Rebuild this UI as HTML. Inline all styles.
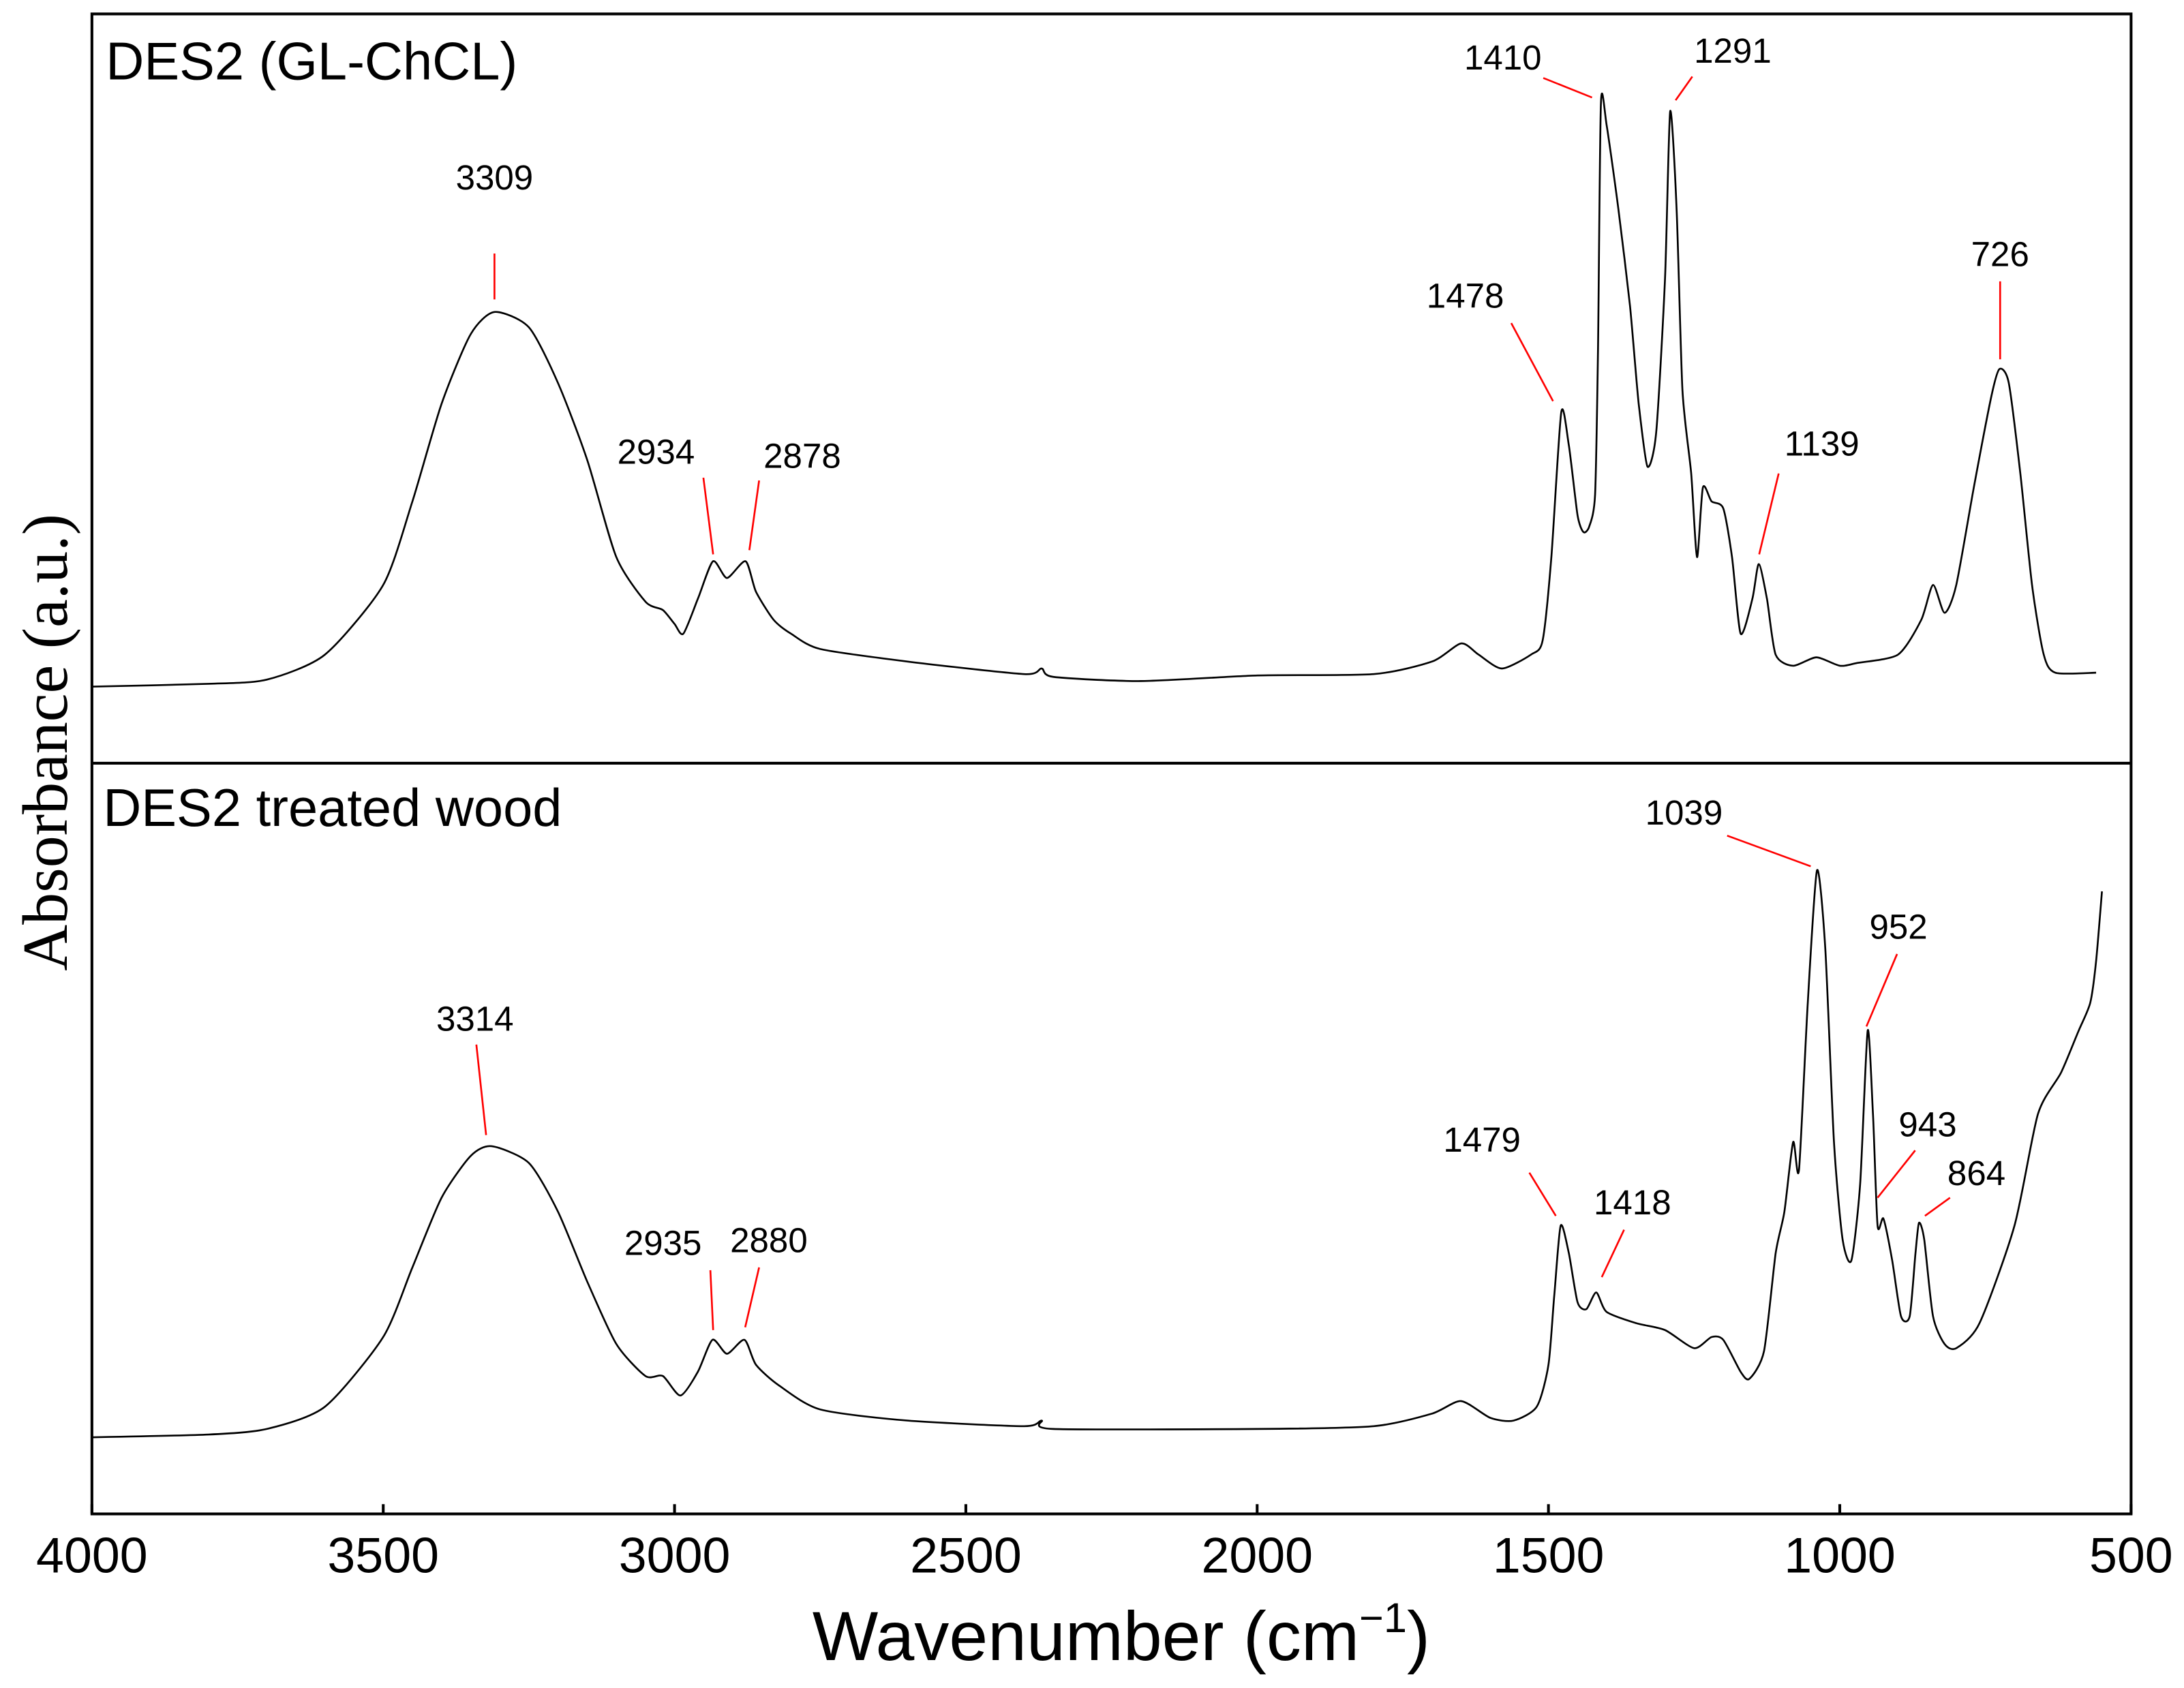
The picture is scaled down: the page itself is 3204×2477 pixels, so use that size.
<!DOCTYPE html>
<html><head><meta charset="utf-8"><style>
html,body{margin:0;padding:0;background:#fff}
svg{display:block}
text{font-family:"Liberation Sans",sans-serif;fill:#000}
</style></head><body>
<svg id="chart" width="3204" height="2477" viewBox="0 0 1568 1212" preserveAspectRatio="none" xmlns="http://www.w3.org/2000/svg">
<rect x="66" y="10" width="1464" height="1077" fill="#fff" stroke="#000" stroke-width="2"/>
<line x1="66" y1="548" x2="1530" y2="548" stroke="#000" stroke-width="2"/>
<g id="ticks"></g>
<g id="series"></g>
<g id="ann"></g>
<text x="76" y="57" font-size="38">DES2 (GL-ChCL)</text>
<text x="74" y="593" font-size="38">DES2 treated wood</text>
<text x="805" y="1192" font-size="50" text-anchor="middle">Wavenumber (cm<tspan font-size="30" dy="-20">−1</tspan><tspan dy="20">)</tspan></text>
<text transform="translate(48,533) rotate(-90)" font-size="46" text-anchor="middle" style="font-family:'Liberation Serif',serif">Absorbance (a.u.)</text>
</svg>
<script>
const xTicks=[4000,3500,3000,2500,2000,1500,1000,500];
const topWn=[4000,3800,3700,3600,3500,3450,3400,3350,3309,3250,3200,3150,3100,3050,3020,3000,2985,2960,2934,2910,2878,2860,2830,2800,2750,2600,2400,2370,2350,2200,2000,1800,1700,1650,1620,1580,1530,1510,1495,1478,1465,1450,1440,1430,1420,1415,1410,1400,1380,1360,1345,1330,1315,1300,1291,1280,1270,1255,1245,1235,1220,1200,1185,1170,1150,1139,1125,1110,1080,1040,1000,970,900,860,840,820,800,770,740,726,710,690,670,650,630,560];
const topAbs=[55,57,60,78,128,188,258,308,324,313,273,218,148,116,110,100,93,118,145,133,145,123,103,93,82,73,64,68,62,59,63,64,73,86,78,68,78,88,148,252,228,178,166,170,193,298,474,458,398,328,258,213,238,348,468,398,268,208,148,198,188,183,148,93,118,143,118,78,70,76,70,72,78,103,128,108,128,198,263,283,273,208,128,78,65,65];
const botWn=[4000,3800,3700,3600,3500,3450,3400,3350,3314,3250,3200,3150,3100,3050,3020,2990,2960,2935,2910,2880,2860,2820,2750,2600,2400,2370,2350,2000,1800,1700,1650,1600,1560,1520,1500,1490,1479,1465,1450,1435,1418,1400,1350,1300,1250,1220,1200,1170,1155,1130,1110,1095,1080,1070,1055,1039,1025,1010,995,980,965,952,943,935,925,910,895,880,870,864,855,840,820,800,760,700,660,620,590,570,560,550];
const botAbs=[55,57,61,77,127,177,227,257,264,252,217,167,122,99,99,85,102,125,115,125,107,92,75,67,63,67,61,61,63,72,81,69,67,77,107,157,207,187,152,147,159,145,137,132,119,127,125,102,97,117,187,217,267,247,367,462,407,267,197,182,237,347,287,207,212,182,142,142,187,209,197,142,122,119,137,207,287,317,347,367,397,447];
const annWn=[3309,2934,2878,1478,1410,1291,1139,726,3314,2935,2880,1479,1418,1039,952,943,864];
const NS="http://www.w3.org/2000/svg";
const X0=66,X1=1530;
function xs(w){return X0+(4000-w)/3500*(X1-X0);}
function ysTop(a){return 548-a;}
function ysBot(a){return 1087-a;}
const tg=document.getElementById('ticks');
xTicks.forEach(t=>{
  const ln=document.createElementNS(NS,'line');
  
  
  ln.setAttribute('x1',xs(t));ln.setAttribute('x2',xs(t));ln.setAttribute('y1',1087);ln.setAttribute('y2',1080);
  ln.setAttribute('stroke','#000');ln.setAttribute('stroke-width','2');tg.appendChild(ln);
  const tx=document.createElementNS(NS,'text');
  
  
  tx.setAttribute('x',xs(t));tx.setAttribute('y',1129);tx.setAttribute('font-size','36');tx.setAttribute('text-anchor','middle');
  tx.textContent=t;tg.appendChild(tx);
});
const sg=document.getElementById('series');
function line(wn,ab,ys,name){
  const P=wn.map((w,i)=>[xs(w),ys(ab[i])]);
  let d='M'+P[0][0].toFixed(1)+','+P[0][1].toFixed(1);
  const k=0.12;
  for(let i=0;i<P.length-1;i++){
    const p0=P[Math.max(0,i-1)],p1=P[i],p2=P[i+1],p3=P[Math.min(P.length-1,i+2)];
    const c1=[p1[0]+(p2[0]-p0[0])*k,p1[1]+(p2[1]-p0[1])*k];
    const c2=[p2[0]-(p3[0]-p1[0])*k,p2[1]-(p3[1]-p1[1])*k];
    d+='C'+c1[0].toFixed(1)+','+c1[1].toFixed(1)+' '+c2[0].toFixed(1)+','+c2[1].toFixed(1)+' '+p2[0].toFixed(1)+','+p2[1].toFixed(1);
  }
  const p=document.createElementNS(NS,'path');
  
  
  p.setAttribute('d',d);
  p.setAttribute('fill','none');p.setAttribute('stroke','#000');p.setAttribute('stroke-width','1.3');p.setAttribute('stroke-linejoin','round');
  sg.appendChild(p);
}
line(topWn,topAbs,ysTop,'des2-spectrum');
line(botWn,botAbs,ysBot,'treated-wood-spectrum');
const annLayout=[[355,136,355,182,355,215],[471,333,505,343,512,398],[576,336,545,345,538,395],[1052,221,1085,232,1115,288],[1079,50,1108,56,1143,70],[1244,45,1215,55,1203,72],[1308,327,1277,340,1263,398],[1436,191,1436,202,1436,258],
[341,740,342,750,349,815],[476,901,510,912,512,955],[552,899,545,910,535,953],[1064,827,1098,842,1117,873],[1172,872,1166,883,1150,917],[1209,592,1240,600,1300,622],[1363,674,1362,685,1340,737],[1384,816,1375,826,1348,860],[1419,851,1400,860,1382,873]];
const ag=document.getElementById('ann');
annWn.forEach((w,i)=>{
  const L=annLayout[i];
  const ln=document.createElementNS(NS,'line');
  
  
  ln.setAttribute('x1',L[2]);ln.setAttribute('y1',L[3]);ln.setAttribute('x2',L[4]);ln.setAttribute('y2',L[5]);
  ln.setAttribute('stroke','#ff0000');ln.setAttribute('stroke-width','1.3');ag.appendChild(ln);
  const tx=document.createElementNS(NS,'text');
  
  
  tx.setAttribute('x',L[0]);tx.setAttribute('y',L[1]);tx.setAttribute('font-size','25');tx.setAttribute('text-anchor','middle');
  tx.textContent=w;ag.appendChild(tx);
});
</script>
</body></html>
